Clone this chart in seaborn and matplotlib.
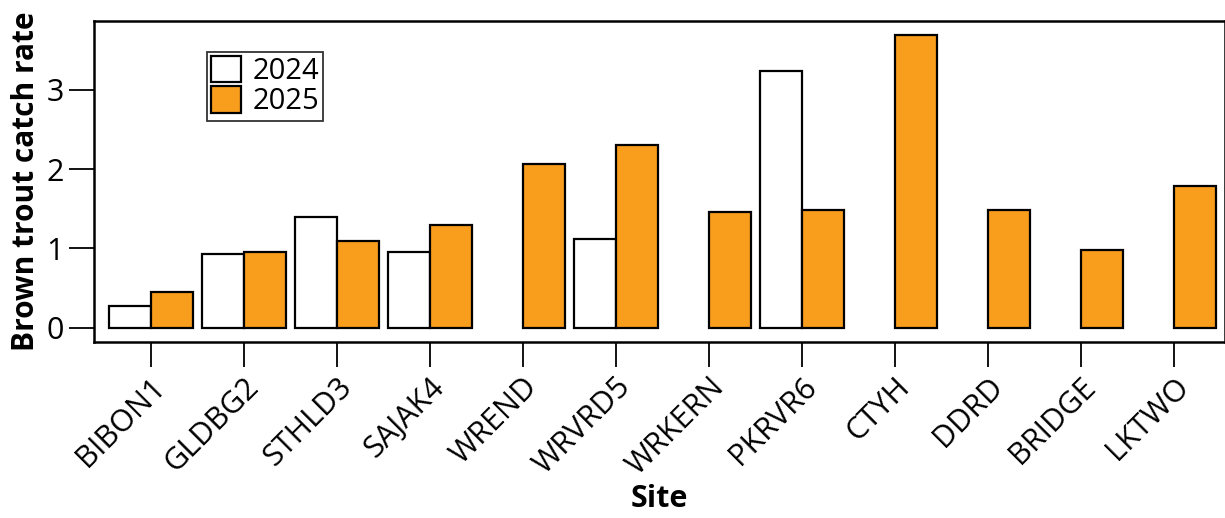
import matplotlib
matplotlib.use("Agg")
import matplotlib.pyplot as plt
import seaborn as sns
import numpy as np
import pandas as pd
from matplotlib.patches import Patch

sites = ["BIBON1", "GLDBG2", "STHLD3", "SAJAK4", "WREND", "WRVRD5",
         "WRKERN", "PKRVR6", "CTYH", "DDRD", "BRIDGE", "LKTWO"]
rate_2024 = [0.27, 0.93, 1.40, 0.95, np.nan, 1.12, np.nan, 3.24, np.nan, np.nan, np.nan, np.nan]
rate_2025 = [0.45, 0.96, 1.10, 1.30, 2.07, 2.31, 1.46, 1.49, 3.69, 1.49, 0.98, 1.79]
years = ["2024", "2025"]
colors = {"2024": "#FFFFFF", "2025": "#F99D1C"}

df = pd.DataFrame({
    "Site": sites * 2,
    "Year": ["2024"] * len(sites) + ["2025"] * len(sites),
    "Rate": rate_2024 + rate_2025,
})

sns.set_theme(style="white")
plt.rcParams["font.family"] = ["Open Sans", "DejaVu Sans"]
plt.rcParams["text.color"] = "black"
plt.rcParams["axes.labelcolor"] = "black"

fig = plt.figure(figsize=(12.25, 5.18), dpi=100)
ax = fig.add_axes([0.0767, 0.3398, 0.9233, 0.6197])

sns.barplot(data=df, x="Site", y="Rate", hue="Year", hue_order=years,
            order=sites, palette=colors, saturation=1, width=0.9, edgecolor="black",
            linewidth=1.6, ax=ax, legend=False)

ax.set_xlim(-0.61, 11.55)
ax.set_ylim(-0.18, 3.87)
ax.set_yticks([0, 1, 2, 3])
ax.tick_params(axis="both", direction="out", length=18, width=1.3,
               colors="black", labelsize=22, left=True, bottom=True)
plt.setp(ax.get_xticklabels(), rotation=45, ha="right", rotation_mode="anchor")
ax.set_xlabel("Site", fontsize=22, fontweight="bold", labelpad=2, color="black")
ax.set_ylabel("Brown trout catch rate", fontsize=21.5, fontweight="bold", labelpad=4, color="black")
for s in ax.spines.values():
    s.set_color("black")
    s.set_linewidth(1.8)

handles = [Patch(facecolor=colors[y], edgecolor="black", linewidth=1.6, label=y) for y in years]
leg = ax.legend(handles=handles, loc="upper left", bbox_to_anchor=(207 / 1225, 1 - 52 / 518),
                bbox_transform=fig.transFigure, fontsize=21, frameon=True, fancybox=False,
                handlelength=1.0, handleheight=1.0, handletextpad=0.4, borderpad=0.15,
                labelspacing=0.0, borderaxespad=0)
leg.get_frame().set_edgecolor("black")
leg.get_frame().set_linewidth(1.3)
for t in leg.get_texts():
    t.set_color("black")

fig.savefig("out.png", dpi=100)
